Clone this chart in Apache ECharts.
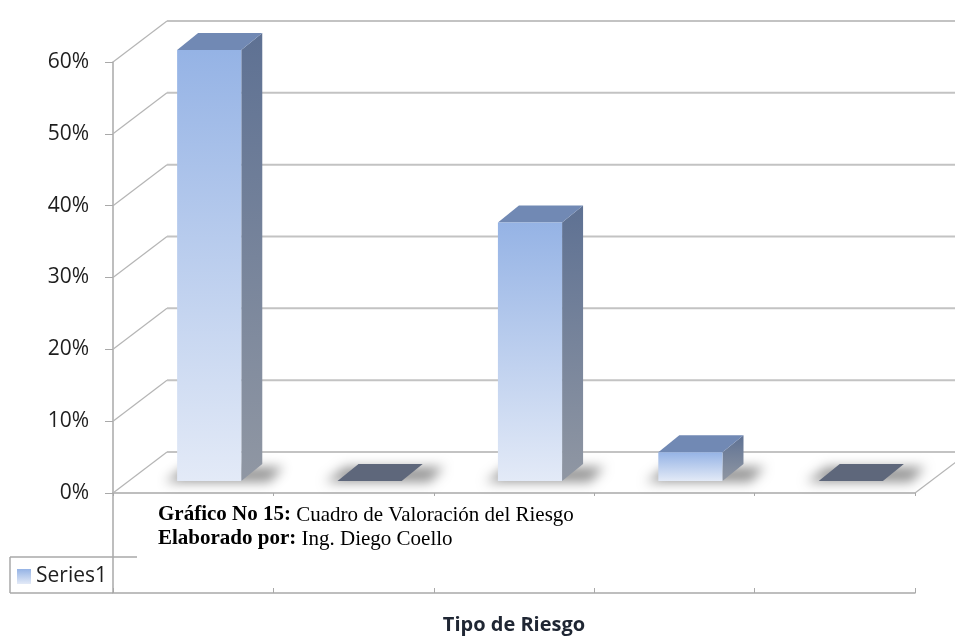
<!DOCTYPE html>
<html>
<head>
<meta charset="utf-8">
<script src="https://cdn.jsdelivr.net/npm/echarts@6/dist/echarts.min.js"></script>
<style>
html,body{margin:0;padding:0;background:#fff;}
#chart{width:955px;height:637px;}
</style>
</head>
<body>
<div id="chart"></div>
<script>
// ---- data ----
const categories = ['1', '2', '3', '4', '5'];
const seriesName = 'Series1';
const values = [0.60, 0.00, 0.36, 0.04, 0.00];
const yTicks = [0, 0.1, 0.2, 0.3, 0.4, 0.5, 0.6];
const yTickLabels = ['0%', '10%', '20%', '30%', '40%', '50%', '60%'];
const axisTitle = 'Tipo de Riesgo';
const captionBold1 = 'Gráfico No 15:';
const captionText1 = ' Cuadro de Valoración del Riesgo';
const captionBold2 = 'Elaborado por:';
const captionText2 = ' Ing. Diego Coello';

// ---- styling / pseudo 3D projection ----
const DEPTH_X = 54, DEPTH_Y = -41;
const BAR_DX = 16, BAR_DY = -12;
const BAR_DEPTH_X = 21, BAR_DEPTH_Y = -17;
const GRID_COLOR = '#c3c3c3';
const AXIS_COLOR = '#a9a9a9';
const LOWER_AXIS_OFFSET = 100;

const chart = echarts.init(document.getElementById('chart'), null, {renderer: 'canvas'});

function wallItem(params, api) {
  const cs = params.coordSys;
  const v = api.value(1);
  const y = api.coord([0, v])[1];
  const x0 = cs.x, x1 = cs.x + cs.width;
  const children = [
    {type: 'line', shape: {x1: x0, y1: y, x2: x0 + DEPTH_X, y2: y + DEPTH_Y},
     style: {stroke: '#b5b5b5', lineWidth: 1.2}},
    {type: 'line', shape: {x1: x0 + DEPTH_X, y1: y + DEPTH_Y, x2: x1 + DEPTH_X + 40, y2: y + DEPTH_Y},
     style: {stroke: GRID_COLOR, lineWidth: 2}}
  ];
  if (v === 0) {
    children.push({type: 'line', shape: {x1: x1, y1: y, x2: x1 + DEPTH_X, y2: y + DEPTH_Y},
      style: {stroke: '#b5b5b5', lineWidth: 1.2}});
    children.push({type: 'line', shape: {x1: x0, y1: y, x2: x0, y2: y + LOWER_AXIS_OFFSET},
      style: {stroke: AXIS_COLOR, lineWidth: 1.5}});
  }
  return {type: 'group', children: children};
}

function barItem(params, api) {
  const idx = api.value(0);
  const v = api.value(1);
  const base = api.coord([idx, 0]);
  const top = api.coord([idx, v]);
  const bw = api.size([1, 0])[0] * 0.4;
  const x0 = base[0] + BAR_DX - bw / 2;
  const x1 = x0 + bw;
  const yb = base[1] + BAR_DY;
  const yt = top[1] + BAR_DY;
  const far = 3000;
  const children = [];
  children.push({
    type: 'polygon',
    shape: {points: [[x0 - 12 - far, yb + 1], [x1 + 28 - far, yb + 1], [x1 + 42 - far, yb - 14], [x0 + 8 - far, yb - 14]]},
    style: {fill: '#000', shadowBlur: 12, shadowOffsetX: far, shadowOffsetY: 0, shadowColor: 'rgba(0,0,0,0.42)'}
  });
  if (v > 0) {
    children.push({
      type: 'polygon',
      shape: {points: [[x1, yb], [x1 + BAR_DEPTH_X, yb + BAR_DEPTH_Y], [x1 + BAR_DEPTH_X, yt + BAR_DEPTH_Y], [x1, yt]]},
      style: {fill: new echarts.graphic.LinearGradient(0, 0, 0, 1, [
        {offset: 0, color: '#5e7193'}, {offset: 1, color: '#9097a3'}])}
    });
    children.push({
      type: 'polygon',
      shape: {points: [[x0, yt], [x1, yt], [x1 + BAR_DEPTH_X, yt + BAR_DEPTH_Y], [x0 + BAR_DEPTH_X, yt + BAR_DEPTH_Y]]},
      style: {fill: '#7189b4'}
    });
    children.push({
      type: 'rect',
      shape: {x: x0, y: yt, width: bw, height: yb - yt},
      style: {fill: new echarts.graphic.LinearGradient(0, 0, 0, 1, [
        {offset: 0, color: '#95b3e5'}, {offset: 1, color: '#e3eaf7'}])}
    });
  } else {
    children.push({
      type: 'polygon',
      shape: {points: [[x0, yb], [x1, yb], [x1 + BAR_DEPTH_X, yb + BAR_DEPTH_Y], [x0 + BAR_DEPTH_X, yb + BAR_DEPTH_Y]]},
      style: {fill: '#5e677b'}
    });
  }
  return {type: 'group', children: children};
}

const option = {
  animation: false,
  backgroundColor: '#ffffff',
  grid: {left: 113, right: 40, top: 62, bottom: 144, containLabel: false, outerBoundsMode: 'none'},
  legend: {
    data: [seriesName],
    left: 12, top: 561,
    itemWidth: 14, itemHeight: 15, itemGap: 5,
    icon: 'rect',
    textStyle: {fontFamily: 'Open Sans', fontSize: 21, color: '#1e1e1e'}
  },
  xAxis: [
    {type: 'category', data: categories, position: 'bottom',
     axisLine: {show: true, lineStyle: {color: AXIS_COLOR, width: 1.5}},
     axisTick: {show: true, length: 3, lineStyle: {color: AXIS_COLOR}},
     axisLabel: {show: false}, splitLine: {show: false}},
    {type: 'category', data: categories, position: 'bottom', offset: LOWER_AXIS_OFFSET,
     axisLine: {show: true, lineStyle: {color: AXIS_COLOR, width: 1.5}},
     axisTick: {show: true, inside: true, length: 5, lineStyle: {color: AXIS_COLOR}},
     axisLabel: {show: false}, splitLine: {show: false},
     name: axisTitle, nameLocation: 'middle', nameGap: 22,
     nameTextStyle: {fontFamily: 'Open Sans', fontWeight: 'bold', fontSize: 20, color: '#1f2633'}}
  ],
  yAxis: {
    type: 'value', min: 0, max: 0.6, interval: 0.1,
    axisLine: {show: true, lineStyle: {color: AXIS_COLOR, width: 1.5}},
    axisTick: {show: true, length: 8, lineStyle: {color: AXIS_COLOR}},
    splitLine: {show: false},
    axisLabel: {
      margin: 24,
      fontFamily: 'Open Sans', fontSize: 21, color: '#1e1e1e',
      formatter: function (v) {
        const i = yTicks.findIndex(t => Math.abs(t - v) < 1e-9);
        return i >= 0 ? yTickLabels[i] : '';
      }
    }
  },
  graphic: [
    {type: 'line', shape: {x1: 10, y1: 557, x2: 137, y2: 557}, style: {stroke: AXIS_COLOR, lineWidth: 1.5}},
    {type: 'line', shape: {x1: 10, y1: 557, x2: 10, y2: 593}, style: {stroke: AXIS_COLOR, lineWidth: 1.5}},
    {type: 'line', shape: {x1: 10, y1: 593, x2: 113, y2: 593}, style: {stroke: AXIS_COLOR, lineWidth: 1.5}},
    {type: 'text', left: 158, top: 503, z: 100,
     style: {
       text: '{b|' + captionBold1 + '}' + captionText1 + '\n{b|' + captionBold2 + '}' + captionText2,
       fontFamily: 'Liberation Serif', fontSize: 21, lineHeight: 24, fill: '#000',
       rich: {b: {fontFamily: 'Liberation Serif', fontWeight: 'bold', fontSize: 21, lineHeight: 24, fill: '#000'}}
     }}
  ],
  series: [
    {type: 'custom', name: 'walls', coordinateSystem: 'cartesian2d', xAxisIndex: 0, yAxisIndex: 0,
     z: 1, silent: true, renderItem: wallItem,
     data: yTicks.map(v => [0, v])},
    {type: 'custom', name: seriesName, coordinateSystem: 'cartesian2d', xAxisIndex: 0, yAxisIndex: 0,
     z: 3, renderItem: barItem,
     itemStyle: {color: new echarts.graphic.LinearGradient(0, 0, 0, 1, [
       {offset: 0, color: '#95b3e5'}, {offset: 1, color: '#e3eaf7'}])},
     data: values.map((v, i) => [i, v])}
  ]
};
chart.setOption(option);
</script>
</body>
</html>
